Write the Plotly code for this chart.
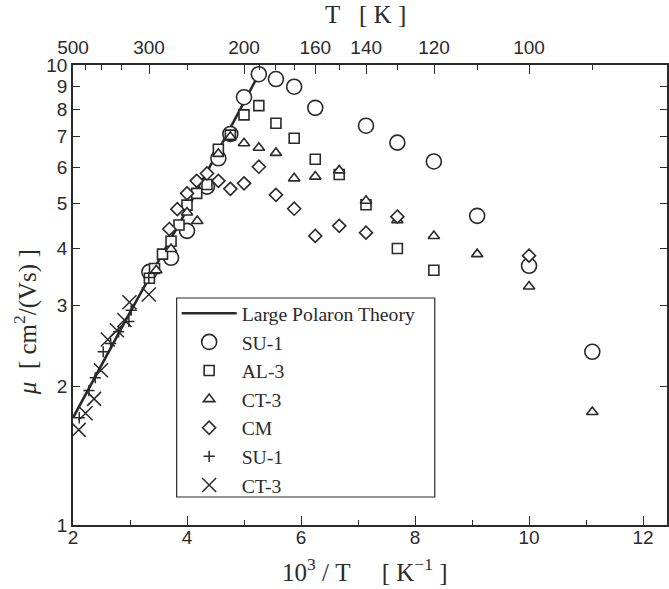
import plotly.graph_objects as go

# ---------------- data ----------------
theory_x = [2.0, 3.0, 4.0, 5.0, 5.26]
theory_y = [1.71, 2.90, 4.85, 8.35, 9.55]

su1_x = [3.34, 3.72, 4.0, 4.35, 4.55, 4.76, 5.0, 5.26, 5.56, 5.88, 6.25, 7.14, 7.69, 8.33, 9.09, 10.0, 11.11]
su1_y = [3.55, 3.81, 4.36, 5.44, 6.27, 7.08, 8.51, 9.55, 9.32, 8.97, 8.07, 7.38, 6.78, 6.17, 4.70, 3.66, 2.38]

al3_x = [3.34, 3.43, 3.57, 3.72, 3.86, 4.0, 4.17, 4.35, 4.55, 4.76, 5.0, 5.26, 5.56, 5.88, 6.25, 6.67, 7.14, 7.69, 8.33]
al3_y = [3.44, 3.61, 3.88, 4.14, 4.49, 4.96, 5.26, 5.50, 6.56, 7.04, 7.79, 8.16, 7.47, 6.93, 6.24, 5.78, 4.97, 3.99, 3.58]

ct3_x = [3.46, 3.72, 4.0, 4.18, 4.55, 4.76, 5.0, 5.26, 5.56, 5.88, 6.25, 6.67, 7.14, 7.69, 8.33, 9.09, 10.0, 11.11]
ct3_y = [3.58, 3.98, 4.78, 4.58, 6.41, 6.98, 6.76, 6.61, 6.44, 5.67, 5.72, 5.90, 5.07, 4.60, 4.25, 3.88, 3.30, 1.76]

cm_x = [3.69, 3.83, 4.0, 4.17, 4.35, 4.55, 4.76, 5.0, 5.26, 5.56, 5.88, 6.25, 6.67, 7.14, 7.69, 10.0]
cm_y = [4.40, 4.86, 5.26, 5.60, 5.81, 5.60, 5.38, 5.53, 6.01, 5.22, 4.87, 4.25, 4.47, 4.32, 4.68, 3.85]

su1p_x = [2.11, 2.28, 2.39, 2.53, 2.66, 2.80, 2.98, 3.02, 3.33]
su1p_y = [1.71, 1.96, 2.09, 2.38, 2.48, 2.63, 2.77, 2.93, 3.45]

ct3x_x = [2.10, 2.22, 2.37, 2.49, 2.61, 2.77, 2.90, 2.99, 3.33]
ct3x_y = [1.61, 1.75, 1.88, 2.17, 2.53, 2.65, 2.79, 3.05, 3.17]

x_ticks = [2, 4, 6, 8, 10, 12]
x_minor = [3, 5, 7, 9, 11]
y_ticks = [1, 2, 3, 4, 5, 6, 7, 8, 9, 10]
T_major = [500, 300, 200, 160, 140, 120, 100]
T_minor = [450, 400, 350, 250, 190, 180, 170, 150, 130, 110, 90]

# ---------------- styling ----------------
INK = "#2a2a2a"
SANS = "Liberation Sans, Arial, sans-serif"
SERIF = "Liberation Serif, Times New Roman, serif"
X_RANGE = [2, 12.42]
PLOT_L, PLOT_W, PLOT_B, PLOT_H = 73, 596, 525, 460


def px_x(p):
    return (p - PLOT_L) / PLOT_W


def px_y(p):
    return (PLOT_B - p) / PLOT_H


fig = go.Figure()

fig.add_trace(go.Scatter(x=theory_x, y=theory_y, mode="lines", name="Large Polaron Theory",
                         line=dict(color=INK, width=2.6)))


def add_markers(xs, ys, name, symbol, size, fill, lw=1.6):
    fig.add_trace(go.Scatter(
        x=xs, y=ys, mode="markers", name=name,
        marker=dict(symbol=symbol, size=size, color=fill,
                    line=dict(color=INK, width=lw))))


add_markers(su1_x, su1_y, "SU-1", "circle", 15, "white")
add_markers(al3_x, al3_y, "AL-3", "square", 10, "white")
add_markers(ct3_x, ct3_y, "CT-3", "triangle-up", 10, "white")
add_markers(cm_x, cm_y, "CM", "diamond", 10, "white")
add_markers(su1p_x, su1p_y, "SU-1", "cross-thin-open", 8, INK, lw=1.5)
add_markers(ct3x_x, ct3x_y, "CT-3", "x-thin-open", 14, INK, lw=1.5)

# invisible trace to activate the top temperature axis
fig.add_trace(go.Scatter(x=[1000 / t for t in T_major], y=[1] * len(T_major), xaxis="x2",
                         mode="markers", marker=dict(opacity=0), showlegend=False,
                         hoverinfo="skip"))

fig.update_layout(
    width=669, height=589,
    margin=dict(l=PLOT_L, r=0, t=65, b=589 - PLOT_B),
    paper_bgcolor="white", plot_bgcolor="white",
    showlegend=True,
    legend=dict(x=px_x(177), y=px_y(294), xanchor="left", yanchor="top",
                borderwidth=0, bgcolor="rgba(0,0,0,0)",
                font=dict(family=SERIF, size=19.7, color=INK),
                itemwidth=55),
    xaxis=dict(range=X_RANGE, showgrid=False, zeroline=False,
               showline=True, linecolor=INK, linewidth=1.6,
               ticks="inside", ticklen=9, tickwidth=1.2, tickcolor=INK,
               tickmode="array", tickvals=x_ticks, ticklabelstandoff=-6,
               minor=dict(tickmode="array", tickvals=x_minor, ticks="inside",
                          ticklen=5, tickwidth=1.2, tickcolor=INK),
               tickfont=dict(family=SANS, size=19, color=INK)),
    xaxis2=dict(range=X_RANGE, overlaying="x", side="top", showgrid=False, zeroline=False,
                showline=True, linecolor=INK, linewidth=1.6,
                ticks="inside", ticklen=9, tickwidth=1.2, tickcolor=INK,
                tickmode="array", tickvals=[1000 / t for t in T_major],
                ticktext=[str(t) for t in T_major], ticklabelstandoff=2,
                minor=dict(tickmode="array", tickvals=[1000 / t for t in T_minor], ticks="inside",
                           ticklen=5, tickwidth=1.2, tickcolor=INK),
                tickfont=dict(family=SANS, size=19, color=INK)),
    yaxis=dict(type="log", range=[0, 1], showgrid=False, zeroline=False,
               showline=True, linecolor=INK, linewidth=1.6, mirror="ticks",
               ticks="inside", ticklen=7, tickwidth=1.2, tickcolor=INK,
               tickmode="array", tickvals=y_ticks, ticktext=[str(v) for v in y_ticks],
               tickfont=dict(family=SANS, size=19, color=INK)),
)

# legend frame
fig.add_shape(type="rect", xref="paper", yref="paper",
              x0=px_x(177), x1=px_x(436), y0=px_y(497), y1=px_y(298),
              line=dict(color=INK, width=1.2), fillcolor="white", layer="below")

fig.add_annotation(text="10<sup>3</sup>\u00a0/\u00a0T\u00a0\u00a0\u00a0\u00a0\u00a0[\u00a0K<sup>\u22121</sup>\u00a0]",
                   xref="paper", yref="paper", x=px_x(366), y=px_y(570),
                   xanchor="center", yanchor="middle", showarrow=False,
                   font=dict(family=SERIF, size=25, color=INK))
fig.add_annotation(text="T\u00a0\u00a0\u00a0[\u00a0K\u00a0]",
                   xref="paper", yref="paper", x=px_x(366), y=px_y(14),
                   xanchor="center", yanchor="middle", showarrow=False,
                   font=dict(family=SERIF, size=25, color=INK))
fig.add_annotation(text="<i>\u03bc</i>\u00a0\u00a0[\u00a0cm<sup>2</sup>/(Vs)\u00a0]",
                   xref="paper", yref="paper", x=px_x(25), y=px_y(322),
                   xanchor="center", yanchor="middle", textangle=-90, showarrow=False,
                   font=dict(family=SERIF, size=25, color=INK))

fig.write_html("out.html")
